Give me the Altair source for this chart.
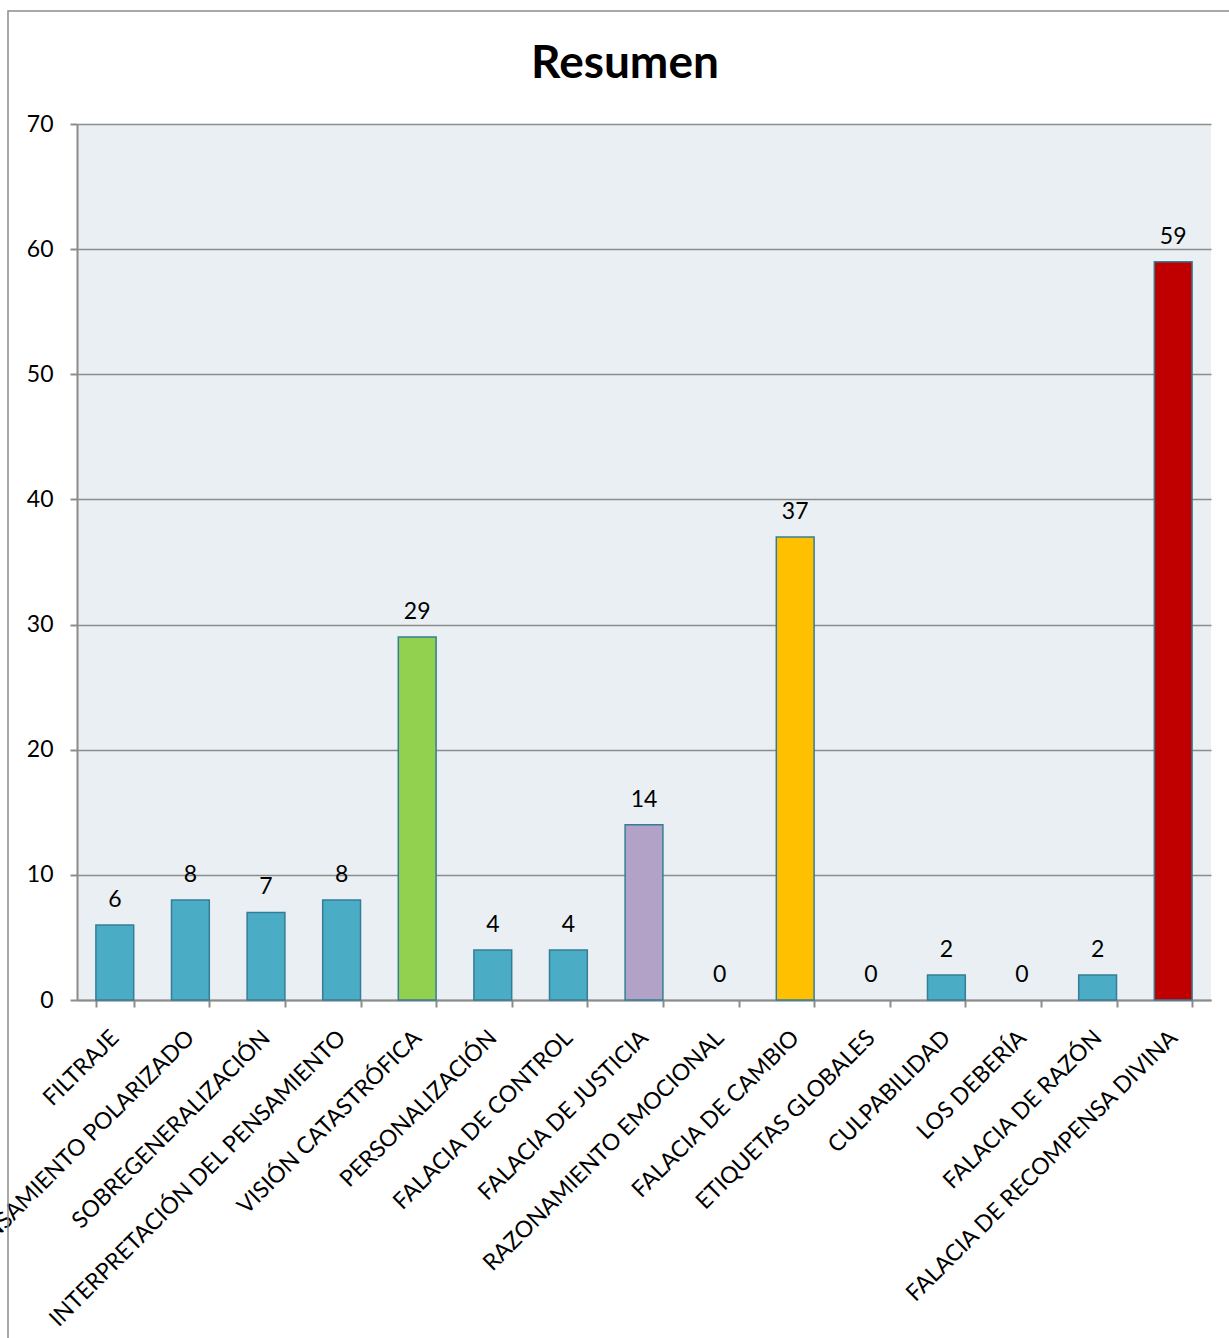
import altair as alt
import pandas as pd

categories = [
    "FILTRAJE",
    "PENSAMIENTO POLARIZADO",
    "SOBREGENERALIZACIÓN",
    "INTERPRETACIÓN DEL PENSAMIENTO",
    "VISIÓN CATASTRÓFICA",
    "PERSONALIZACIÓN",
    "FALACIA DE CONTROL",
    "FALACIA DE JUSTICIA",
    "RAZONAMIENTO EMOCIONAL",
    "FALACIA DE CAMBIO",
    "ETIQUETAS GLOBALES",
    "CULPABILIDAD",
    "LOS DEBERÍA",
    "FALACIA DE RAZÓN",
    "FALACIA DE RECOMPENSA DIVINA",
]
values = [6, 8, 7, 8, 29, 4, 4, 14, 0, 37, 0, 2, 0, 2, 59]
bar_colors = [
    "#4BACC6", "#4BACC6", "#4BACC6", "#4BACC6", "#92D050",
    "#4BACC6", "#4BACC6", "#B2A2C7", "#4BACC6", "#FFC000",
    "#4BACC6", "#4BACC6", "#4BACC6", "#4BACC6", "#C00000",
]
y_ticks = [0, 10, 20, 30, 40, 50, 60, 70]

df = pd.DataFrame({"cat": categories, "val": values, "color": bar_colors})

FONT = "Lato"
GRID = "#8C8C8C"

x_enc = alt.X(
    "cat:N",
    sort=categories,
    scale=alt.Scale(paddingInner=0.5, paddingOuter=0.25),
    axis=alt.Axis(
        title=None,
        labelAngle=-45,
        labelAlign="right",
        labelBaseline="middle",
        labelPadding=27,
        labelFont=FONT,
        labelFontSize=23,
        labelColor="#000000",
        labelLimit=0,
        labelOverlap=False,
        tickBand="extent",
        tickSize=7,
        tickColor=GRID,
        tickWidth=2,
        domainColor=GRID,
        domainWidth=2,
        grid=False,
    ),
)
y_enc = alt.Y(
    "val:Q",
    scale=alt.Scale(domain=[0, 70], nice=False),
    axis=alt.Axis(
        title=None,
        values=y_ticks,
        labelFont=FONT,
        labelFontSize=23,
        labelColor="#000000",
        labelPadding=17,
        tickSize=7,
        tickColor=GRID,
        tickWidth=2,
        domainColor=GRID,
        domainWidth=2,
        grid=True,
        gridColor=GRID,
        gridWidth=1.5,
    ),
)

bars = alt.Chart(df).transform_filter(alt.datum.val > 0).mark_bar(
    stroke="#357D96", strokeWidth=1.5
).encode(
    x=x_enc,
    y=y_enc,
    color=alt.Color("color:N", scale=None, legend=None),
)

labels = alt.Chart(df).mark_text(
    font=FONT, fontSize=23, color="#000000", baseline="bottom", dy=-13
).encode(
    x=alt.X("cat:N", sort=categories),
    y=alt.Y("val:Q"),
    text=alt.Text("val:Q"),
)

frame = alt.Chart(pd.DataFrame({"a": [0]})).mark_rect(
    fillOpacity=0, stroke=GRID, strokeWidth=1.5
).encode(
    x=alt.value(-69), x2=alt.value(1170), y=alt.value(-113), y2=alt.value(1230)
)

chart = (
    alt.layer(bars, labels, frame)
    .properties(
        width=1134,
        height=876,
        title=alt.TitleParams(
            text="Resumen",
            font=FONT,
            fontSize=46,
            fontWeight="bold",
            color="#000000",
            anchor="middle",
            dx=-19,
            dy=100,
            offset=22,
        ),
        autosize=alt.AutoSizeParams(type="none"),
        padding={"left": 77, "top": 124, "right": 18, "bottom": 338},
        background="#FFFFFF",
    )
    .configure_view(fill="#E9EFF3", stroke=None)
)

chart.save("out.html", embed_options={"renderer": "svg", "actions": False})
